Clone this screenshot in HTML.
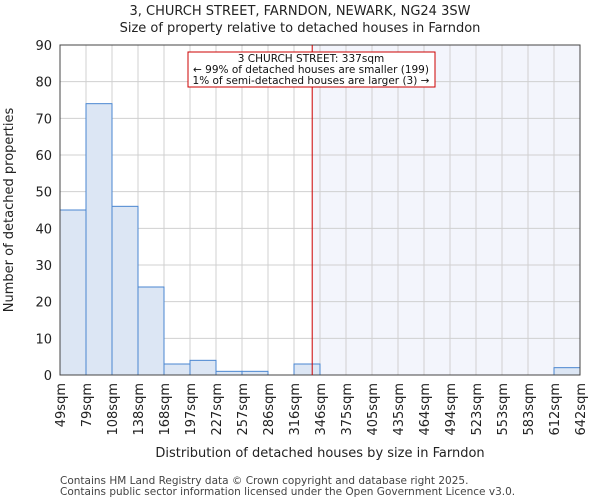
<!DOCTYPE html>
<html><head><meta charset="utf-8"><style>body{margin:0;background:#fff}svg{display:block;font-family:"DejaVu Sans","Liberation Sans",sans-serif}</style></head>
<body>
<svg id="c" width="600" height="500"></svg>
<script>
const edges=["49sqm","79sqm","108sqm","138sqm","168sqm","197sqm","227sqm","257sqm","286sqm","316sqm","346sqm","375sqm","405sqm","435sqm","464sqm","494sqm","523sqm","553sqm","583sqm","612sqm","642sqm"];
const counts=[45,74,46,24,3,4,1,1,0,3,0,0,0,0,0,0,0,0,0,2];
const yTicks=[0,10,20,30,40,50,60,70,80,90];
const edgeValues=[49,79,108,138,168,197,227,257,286,316,346,375,405,435,464,494,523,553,583,612,642];
const marker=337;
const L=60,R=580,T=45,B=375,yMax=90;
const NS="http://www.w3.org/2000/svg",svg=document.getElementById('c');
const bw=(R-L)/counts.length;
const xs=i=>L+i*bw;
const ys=v=>B-(v/yMax)*(B-T);
function xv(v){for(let i=0;i<edgeValues.length-1;i++){if(v<=edgeValues[i+1])return xs(i)+bw*(v-edgeValues[i])/(edgeValues[i+1]-edgeValues[i]);}return R;}
function el(t,a,p){const e=document.createElementNS(NS,t);for(const k in a)e.setAttribute(k,a[k]);(p||svg).appendChild(e);return e;}
const mx=xv(marker);
let r=el('rect',{x:mx,y:T,width:R-mx,height:B-T,fill:'#f3f5fc'});


for(let i=0;i<=counts.length;i++){let g=el('line',{x1:xs(i),x2:xs(i),y1:T,y2:B,stroke:'#d0d0d0','stroke-width':1});}
yTicks.forEach(v=>{let g=el('line',{x1:L,x2:R,y1:ys(v),y2:ys(v),stroke:'#d0d0d0','stroke-width':1});
let t=el('text',{x:L-8,y:ys(v)+5,'text-anchor':'end','font-size':13,fill:'#222'});t.textContent=v;});
counts.forEach((c,i)=>{if(c<=0)return;let b=el('rect',{x:xs(i),y:ys(c),width:bw,height:B-ys(c),fill:'#dce6f4',stroke:'#4a86d0','stroke-width':1});});
edges.forEach((e,i)=>{let t=el('text',{transform:`translate(${xs(i)+5},${B+8}) rotate(-90)`,'text-anchor':'end','font-size':13,fill:'#222'});t.textContent=e;});
let ax=el('rect',{x:L,y:T,width:R-L,height:B-T,fill:'none',stroke:'#444','stroke-width':1});
let ml=el('line',{x1:mx,x2:mx,y1:T,y2:B,stroke:'#cc0000','stroke-width':1});
let ab=el('rect',{x:188,y:52,width:247,height:35,fill:'#fff',stroke:'#cc0000','stroke-width':1});
[["3 CHURCH STREET: 337sqm",62],["← 99% of detached houses are smaller (199)",73],["1% of semi-detached houses are larger (3) →",84]].forEach(([s,y])=>{let t=el('text',{x:311,y:y,'text-anchor':'middle','font-size':10.5,fill:'#111'});t.textContent=s;});
function txt(s,a,n){let t=el('text',a);t.textContent=s;}
txt("3, CHURCH STREET, FARNDON, NEWARK, NG24 3SW",{x:300,y:15,'text-anchor':'middle','font-size':13,fill:'#222'},'chart-title');
txt("Size of property relative to detached houses in Farndon",{x:300,y:32,'text-anchor':'middle','font-size':13,fill:'#222'},'chart-subtitle');
txt("Distribution of detached houses by size in Farndon",{x:320,y:457,'text-anchor':'middle','font-size':13,fill:'#222'},'x-axis-title');
txt("Number of detached properties",{transform:'translate(13,210) rotate(-90)','text-anchor':'middle','font-size':13,fill:'#222'},'y-axis-title');
txt("Contains HM Land Registry data © Crown copyright and database right 2025.",{x:60,y:484,'font-size':10.5,fill:'#444'},'footer-line-1');
txt("Contains public sector information licensed under the Open Government Licence v3.0.",{x:60,y:495,'font-size':10.5,fill:'#444'},'footer-line-2');
</script>
</body></html>
